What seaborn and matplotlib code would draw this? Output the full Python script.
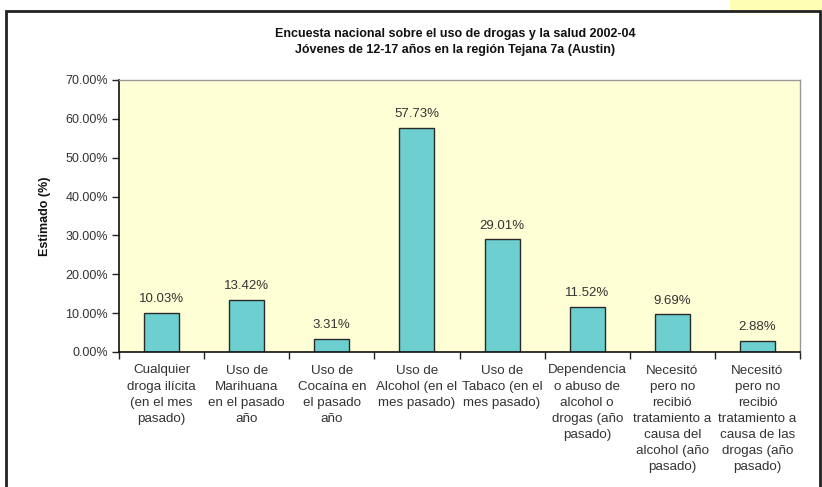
import matplotlib
matplotlib.use("Agg")
import matplotlib.pyplot as plt
import seaborn as sns
import pandas as pd
from matplotlib.patches import Rectangle
from matplotlib.ticker import MultipleLocator, FuncFormatter

categories = [
    "Cualquier\ndroga ilícita\n(en el mes\npasado)",
    "Uso de\nMarihuana\nen el pasado\naño",
    "Uso de\nCocaína en\nel pasado\naño",
    "Uso de\nAlcohol (en el\nmes pasado)",
    "Uso de\nTabaco (en el\nmes pasado)",
    "Dependencia\no abuso de\nalcohol o\ndrogas (año\npasado)",
    "Necesitó\npero no\nrecibió\ntratamiento a\ncausa del\nalcohol (año\npasado)",
    "Necesitó\npero no\nrecibió\ntratamiento a\ncausa de las\ndrogas (año\npasado)",
]
values = [10.03, 13.42, 3.31, 57.73, 29.01, 11.52, 9.69, 2.88]
title = "Encuesta nacional sobre el uso de drogas y la salud 2002-04\nJóvenes de 12-17 años en la región Tejana 7a (Austin)"
ylabel = "Estimado (%)"

sns.set_theme(style="white")
plt.rcParams['font.family'] = ['Liberation Sans', 'DejaVu Sans']

df = pd.DataFrame({"cat": categories, "val": values})

fig = plt.figure(figsize=(8.22, 4.87), dpi=100)
fig.patch.set_facecolor("white")
# yellow patch top-right
fig.add_artist(Rectangle((730/822, 1 - 10/487), 92/822, 10/487, transform=fig.transFigure,
                         facecolor="#FFFFB3", edgecolor="none", zorder=0))
# outer border
fig.add_artist(Rectangle((6/822, -0.05), (820-6)/822, 1.05 - 11/487, transform=fig.transFigure,
                         facecolor="none", edgecolor="#222222", linewidth=2.0, zorder=0))

ax = fig.add_axes([119/822, 1 - 352/487, (800-119)/822, (352-80)/487])
ax.set_facecolor("#FFFFD6")
sns.barplot(data=df, x="cat", y="val", ax=ax, color="#6DCFD0", width=0.41,
            edgecolor="#2a2a2a", linewidth=1.0, saturation=1)

for i, v in enumerate(values):
    ax.text(i, v + 2.0, f"{v:.2f}%", ha="center", va="bottom", fontsize=9.5, color="#333333")

ax.set_ylim(0, 70)
ax.set_xlim(-0.5, len(values) - 0.5)
ax.yaxis.set_major_locator(MultipleLocator(10))
ax.yaxis.set_major_formatter(FuncFormatter(lambda y, p: f"{y:.2f}%"))
ax.tick_params(axis="y", direction="out", length=5, width=1, colors="#222222", labelsize=9, pad=3, left=True)
for lab in ax.get_yticklabels():
    lab.set_color("#333333")
ax.set_xticks(range(len(values)))
ax.set_xticklabels(categories, fontsize=9.6, color="#333333", linespacing=1.45, va="top")
ax.tick_params(axis="x", length=0, pad=9)
# category boundary ticks
ax.set_xticks([i + 0.5 for i in range(-1, len(values))], minor=True)
ax.tick_params(axis="x", which="minor", direction="out", length=5, width=1, colors="#222222", bottom=True)

for s in ["left", "bottom"]:
    ax.spines[s].set_color("#111111")
    ax.spines[s].set_linewidth(1.2)
for s in ["top", "right"]:
    ax.spines[s].set_color("#999999")
    ax.spines[s].set_linewidth(1.0)

ax.set_xlabel("")
ax.set_ylabel(ylabel, fontsize=9, fontweight="bold", color="#111111", labelpad=10)
fig.text(455/822, 1 - 42/487, title, ha="center", va="center", fontsize=9, fontweight="bold",
         color="#111111", linespacing=1.5)

fig.savefig("out.png", dpi=100)
